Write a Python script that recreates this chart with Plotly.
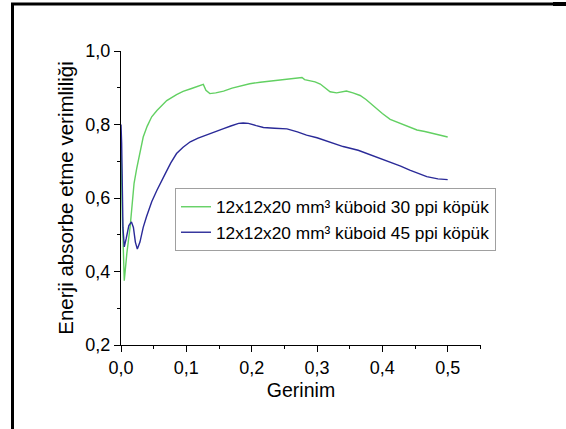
import plotly.graph_objects as go

# ---- data ----
strain_30 = [0.0, 0.002, 0.005, 0.009, 0.014, 0.020, 0.024, 0.030, 0.034, 0.040, 0.047, 0.055,
             0.062, 0.070, 0.085, 0.095, 0.108, 0.118, 0.126, 0.130, 0.136, 0.145, 0.157, 0.170,
             0.182, 0.197, 0.213, 0.228, 0.240, 0.254, 0.265, 0.277, 0.281, 0.290, 0.297, 0.305,
             0.312, 0.320, 0.330, 0.338, 0.345, 0.355, 0.366, 0.375, 0.391, 0.400, 0.412, 0.422,
             0.432, 0.443, 0.453, 0.465, 0.478, 0.490, 0.500]
eff_30 = [0.750, 0.550, 0.375, 0.450, 0.522, 0.640, 0.680, 0.735, 0.766, 0.795, 0.821, 0.838,
          0.852, 0.865, 0.881, 0.890, 0.898, 0.903, 0.909, 0.893, 0.884, 0.886, 0.891, 0.899,
          0.905, 0.911, 0.915, 0.918, 0.920, 0.922, 0.925, 0.928, 0.922, 0.918, 0.916, 0.910,
          0.901, 0.889, 0.886, 0.888, 0.891, 0.886, 0.879, 0.868, 0.843, 0.830, 0.814, 0.807,
          0.801, 0.793, 0.785, 0.781, 0.776, 0.771, 0.766]

strain_45 = [0.0, 0.001, 0.003, 0.005, 0.008, 0.012, 0.016, 0.019, 0.022, 0.025, 0.029, 0.034,
             0.039, 0.047, 0.055, 0.062, 0.068, 0.076, 0.085, 0.095, 0.106, 0.118, 0.131, 0.144,
             0.157, 0.168, 0.180, 0.187, 0.195, 0.207, 0.218, 0.235, 0.254, 0.270, 0.284, 0.300,
             0.320, 0.340, 0.363, 0.381, 0.395, 0.412, 0.428, 0.442, 0.455, 0.468, 0.485, 0.500]
eff_45 = [0.800, 0.750, 0.520, 0.467, 0.490, 0.525, 0.535, 0.520, 0.480, 0.461, 0.480, 0.520,
          0.549, 0.590, 0.621, 0.648, 0.667, 0.695, 0.721, 0.738, 0.753, 0.763, 0.771, 0.780,
          0.789, 0.796, 0.803, 0.804, 0.803, 0.797, 0.792, 0.790, 0.788, 0.780, 0.771, 0.764,
          0.753, 0.740, 0.730, 0.718, 0.710, 0.698, 0.687, 0.676, 0.667, 0.658, 0.652, 0.650]

series_names = ["12x12x20 mm³ küboid 30 ppi köpük", "12x12x20 mm³ küboid 45 ppi köpük"]

x_tickvals = [0.0, 0.1, 0.2, 0.3, 0.4, 0.5]
x_ticktext = ["0,0", "0,1", "0,2", "0,3", "0,4", "0,5"]
y_tickvals = [0.2, 0.4, 0.6, 0.8, 1.0]
y_ticktext = ["0,2", "0,4", "0,6", "0,8", "1,0"]

x_title = "Gerinim"
y_title = "Enerji absorbe etme verimliliği"

# ---- figure ----
W, H = 566, 429
ML, MR, MT, MB = 121, 85, 51, 84
PW, PH = W - ML - MR, H - MT - MB

def px(x):
    return (x - ML) / PW

def py(y):
    return 1 - (y - MT) / PH

FONT = "Arial, 'Liberation Sans', sans-serif"

fig = go.Figure()
fig.add_trace(go.Scatter(x=strain_30, y=eff_30, mode="lines", name=series_names[0],
                         line=dict(color="#62d062", width=1.4)))
fig.add_trace(go.Scatter(x=strain_45, y=eff_45, mode="lines", name=series_names[1],
                         line=dict(color="#2a2a98", width=1.4)))

axis_common = dict(showgrid=False, zeroline=False, showline=True, linecolor="black",
                   linewidth=1, ticks="outside", ticklen=6, tickcolor="black",
                   tickfont=dict(family=FONT, size=18, color="black"))

fig.update_xaxes(range=[0, 0.551], tickvals=x_tickvals, ticktext=x_ticktext,
                 title=dict(text=x_title, font=dict(family=FONT, size=19.5, color="black"), standoff=6),
                 minor=dict(ticks="outside", ticklen=3, dtick=0.05, tick0=0, tickcolor="black"),
                 **axis_common)
fig.update_yaxes(range=[0.2, 1.0], tickvals=y_tickvals, ticktext=y_ticktext,
                 title=dict(text=y_title, font=dict(family=FONT, size=20.5, color="black"), standoff=6),
                 minor=dict(ticks="outside", ticklen=3, dtick=0.1, tick0=0.2, tickcolor="black"),
                 **axis_common)

border_path = (f"M {px(11)},{py(2.5)} L {px(560)},{py(2.5)} L {px(560)},{py(5.5)} "
               f"L {px(14)},{py(5.5)} L {px(14)},{py(432)} L {px(11)},{py(432)} Z")

fig.update_layout(
    width=W, height=H,
    margin=dict(l=ML, r=MR, t=MT, b=MB),
    paper_bgcolor="white", plot_bgcolor="white",
    font=dict(family=FONT, size=17, color="black"),
    showlegend=True,
    legend=dict(x=px(175), y=py(188), xanchor="left", yanchor="top",
                bgcolor="white", bordercolor="#a0a0a0", borderwidth=1,
                font=dict(family=FONT, size=17.3, color="black"),
                tracegroupgap=0),
    shapes=[
        dict(type="path", xref="paper", yref="paper", path=border_path,
             line=dict(width=0), fillcolor="black", layer="above"),
        dict(type="rect", xref="paper", yref="paper", x0=px(553), x1=px(570), y0=py(2), y1=py(6),
             line=dict(width=0), fillcolor="black", layer="above"),
    ],
)

fig.write_html("out.html", config={"displayModeBar": False},
               post_script="document.body.style.margin='0px';document.body.style.padding='0px';")
